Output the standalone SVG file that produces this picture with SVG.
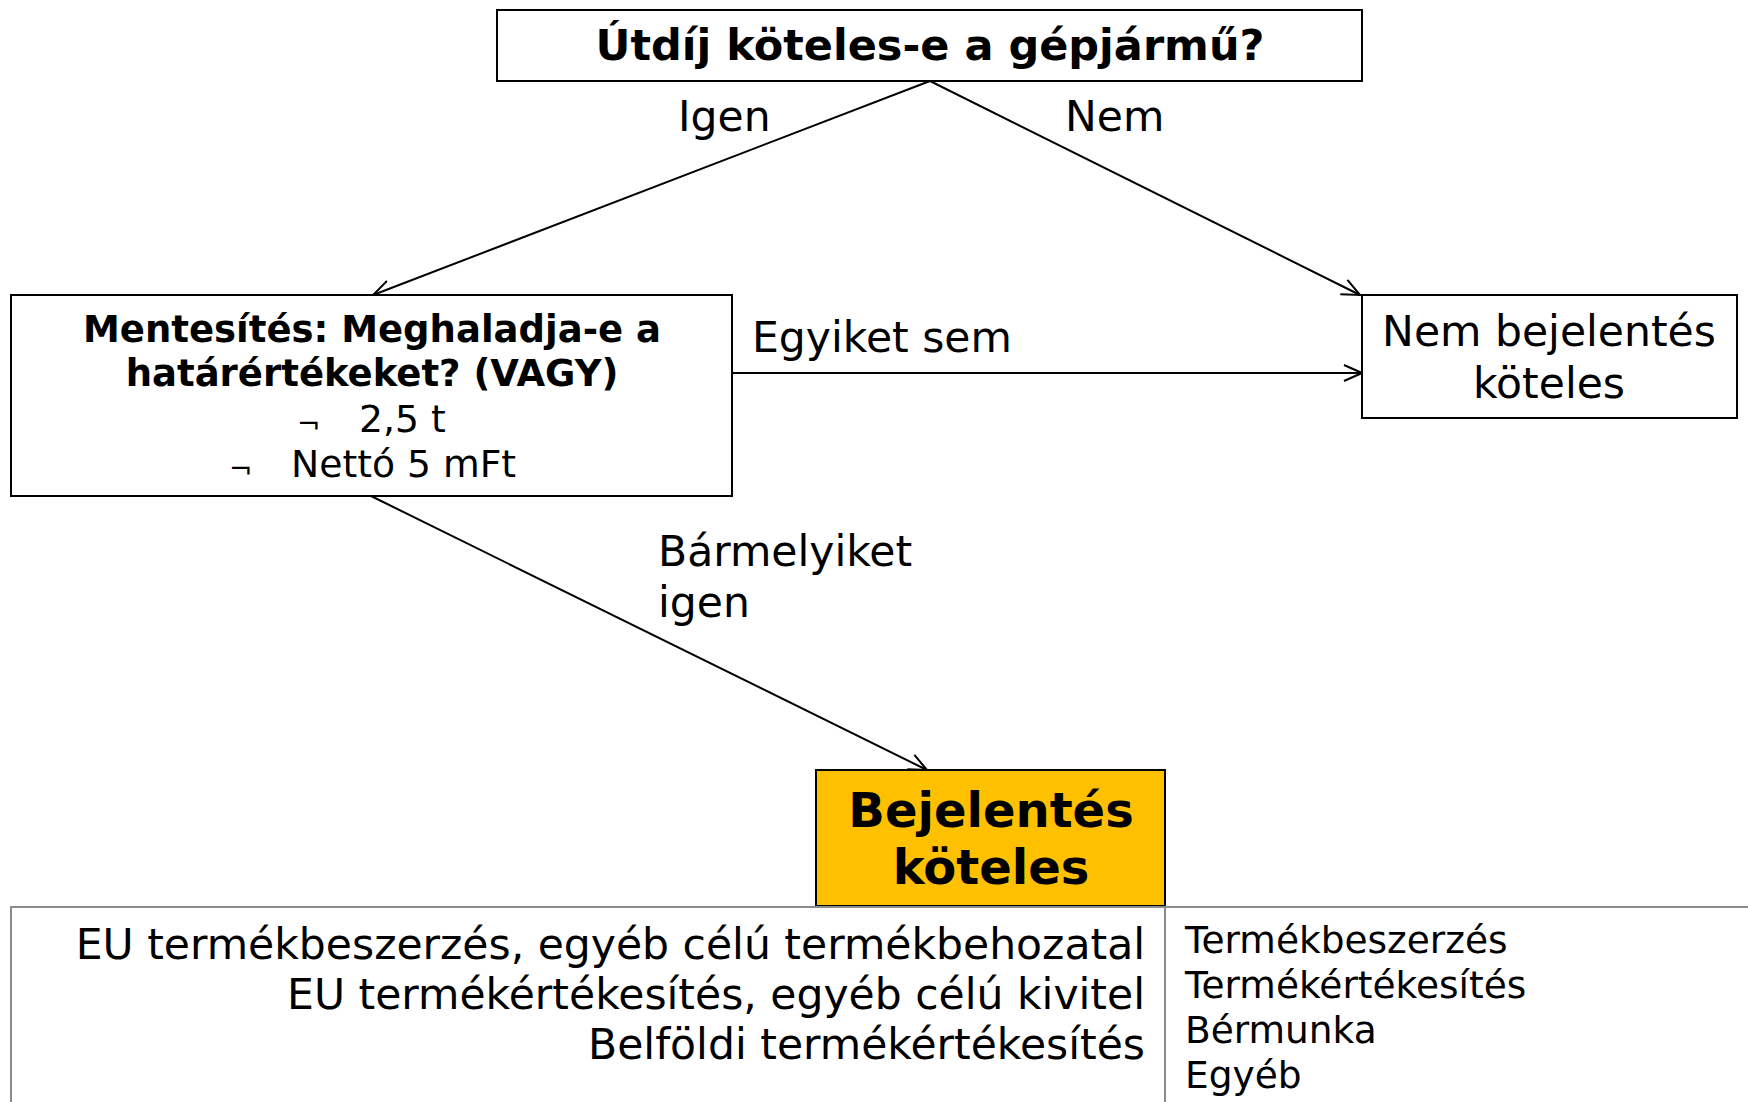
<svg xmlns="http://www.w3.org/2000/svg" width="1748" height="1102" viewBox="0 0 1748 1102">
<style>
text{font-family:"DejaVu Sans",Verdana,sans-serif;fill:#000}
.b{font-weight:bold}
.box{fill:#fff;stroke:#000;stroke-width:2}
.edge{stroke:#000;stroke-width:2;fill:none}
.grid{stroke:#8c8c8c;stroke-width:2;fill:none}
.mid{text-anchor:middle}
.lbl{font-size:42.5px}
</style>
<defs>
<marker id="ah" viewBox="0 0 20 20" refX="19" refY="10" markerWidth="20" markerHeight="20" markerUnits="userSpaceOnUse" orient="auto">
<path d="M1,2 L19,10 L1,18" fill="none" stroke="#000" stroke-width="2"/>
</marker>
</defs>
<rect width="1748" height="1102" fill="#fff"/>
<g id="connectors">
<line class="edge" x1="930" y1="81" x2="373" y2="295" marker-end="url(#ah)"/>
<line class="edge" x1="930" y1="81" x2="1360" y2="295" marker-end="url(#ah)"/>
<line class="edge" x1="732" y1="373" x2="1362" y2="373" marker-end="url(#ah)"/>
<line class="edge" x1="371" y1="496" x2="927" y2="770" marker-end="url(#ah)"/>
<text class="lbl" x="678" y="131">Igen</text>
<text class="lbl" x="1065" y="131">Nem</text>
<text class="lbl" x="752" y="352">Egyiket sem</text>
<text class="lbl" x="658" y="566">Bármelyiket</text>
<text class="lbl" x="658" y="617">igen</text>
</g>
<g id="question">
<rect class="box" x="497" y="10" width="865" height="71"/>
<text class="b mid" x="930" y="60" font-size="43">Útdíj köteles-e a gépjármű?</text>
</g>
<g id="exemption">
<rect class="box" x="11" y="295" width="721" height="201"/>
<text class="b mid" x="372" y="342" font-size="37">Mentesítés: Meghaladja-e a</text>
<text class="b mid" x="372" y="386" font-size="37">határértékeket? (VAGY)</text>
<text x="297" y="434" font-size="28">¬</text>
<text x="359" y="432" font-size="37.7">2,5 t</text>
<text x="229" y="479" font-size="28">¬</text>
<text x="291" y="477" font-size="37.7">Nettó 5 mFt</text>
</g>
<g id="not-required">
<rect class="box" x="1362" y="295" width="375" height="123"/>
<text class="lbl mid" x="1549" y="346">Nem bejelentés</text>
<text class="lbl mid" x="1549" y="398">köteles</text>
</g>
<g id="required">
<rect x="816" y="770" width="349" height="136" fill="#ffc000" stroke="#000" stroke-width="2"/>
<text class="b mid" x="991" y="827" font-size="48">Bejelentés</text>
<text class="b mid" x="991" y="884" font-size="48">köteles</text>
</g>
<g id="table">
<path class="grid" d="M11,1102 V907 H1748 M1165,907 V1102"/>
<text class="lbl" x="1145" y="959" text-anchor="end">EU termékbeszerzés, egyéb célú termékbehozatal</text>
<text class="lbl" x="1145" y="1009" text-anchor="end">EU termékértékesítés, egyéb célú kivitel</text>
<text class="lbl" x="1145" y="1059" text-anchor="end">Belföldi termékértékesítés</text>
<text x="1185" y="953" font-size="37.5">Termékbeszerzés</text>
<text x="1185" y="998" font-size="37.5">Termékértékesítés</text>
<text x="1185" y="1043" font-size="37.5">Bérmunka</text>
<text x="1185" y="1088" font-size="37.5">Egyéb</text>
</g>
</svg>
